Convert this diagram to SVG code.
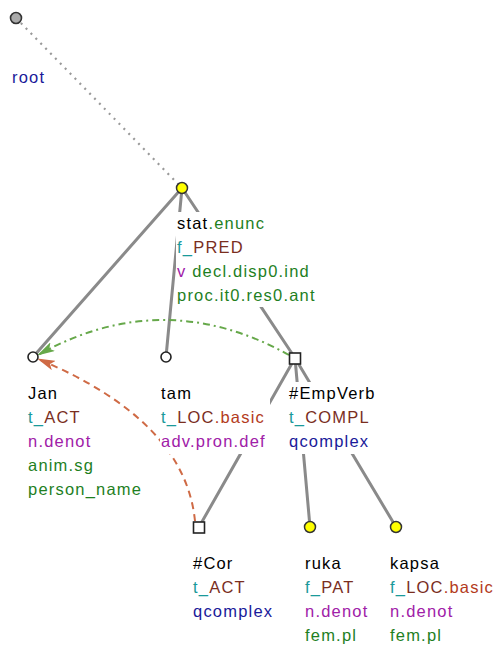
<svg xmlns="http://www.w3.org/2000/svg" width="498" height="646" viewBox="0 0 498 646">
<style>
text{font-family:"Liberation Sans",Arial,sans-serif;font-size:16.5px;letter-spacing:1.2px;fill:#000}
.edge{stroke:#8a8a8a;stroke-width:3;fill:none;stroke-linecap:round}
.bg{fill:#fff}
.tc{fill:#1a9a9a}.fn{fill:#7a2e1e}.sub{fill:#b33a20}.pu{fill:#a020a8}.gr{fill:#1f7f1f}.bl{fill:#1a1a9a}
.yel{fill:#ffff00;stroke:#333;stroke-width:1.5}
.open{fill:#fff;stroke:#222;stroke-width:1.6}
.sq{fill:#fff;stroke:#222;stroke-width:1.6}
</style>
<defs>
<marker id="ag" viewBox="0 0 18 10" refX="17" refY="5" markerWidth="18" markerHeight="10" markerUnits="userSpaceOnUse" orient="auto"><path d="M0,0 L18,5 L0,10 L4,5 z" fill="#66a84a"/></marker>
<marker id="ao" viewBox="0 0 18 10" refX="17" refY="5" markerWidth="18" markerHeight="10" markerUnits="userSpaceOnUse" orient="auto"><path d="M0,0 L18,5 L0,10 L4,5 z" fill="#cf6a45"/></marker>
</defs>
<g id="connectors">
<line x1="16" y1="18" x2="182" y2="188" stroke="#999" stroke-width="2.2" stroke-dasharray="2 5"/>
<line class="edge" x1="182" y1="188" x2="33" y2="357"/>
<line class="edge" x1="182" y1="188" x2="166" y2="357"/>
<line class="edge" x1="182" y1="188" x2="295" y2="358"/>
<line class="edge" x1="295" y1="358" x2="199" y2="527"/>
<line class="edge" x1="295" y1="358" x2="310" y2="527"/>
<line class="edge" x1="295" y1="358" x2="396" y2="527"/>
<path d="M289,355 Q163,285 38,355" fill="none" stroke="#66a84a" stroke-width="2" stroke-dasharray="7 4 2 4" marker-end="url(#ag)"/>
<path d="M195,521 Q185,420 38,359" fill="none" stroke="#cf6a45" stroke-width="2" stroke-dasharray="7 5" marker-end="url(#ao)"/>
</g>
<g id="root">
<circle cx="16" cy="18" r="5.5" fill="#aaa" stroke="#333" stroke-width="1.6"/>
<text x="12" y="83" class="bl">root</text>
</g>
<g id="stat">
<rect class="bg" x="176" y="212" width="142" height="95"/>
<circle class="yel" cx="182" cy="188" r="5.5"/>
<text x="177" y="229">stat<tspan class="gr">.enunc</tspan></text>
<text x="177" y="253"><tspan class="tc">f_</tspan><tspan class="fn">PRED</tspan></text>
<text x="177" y="277"><tspan class="pu">v</tspan><tspan class="gr"> decl.disp0.ind</tspan></text>
<text x="177" y="301" class="gr">proc.it0.res0.ant</text>
</g>
<g id="jan">
<circle class="open" cx="33" cy="357" r="5"/>
<text x="28" y="399">Jan</text>
<text x="28" y="423"><tspan class="tc">t_</tspan><tspan class="fn">ACT</tspan></text>
<text x="28" y="447" class="pu">n.denot</text>
<text x="28" y="471" class="gr">anim.sg</text>
<text x="28" y="495" class="gr">person_name</text>
</g>
<g id="tam">
<rect class="bg" x="160" y="382" width="110" height="72"/>
<circle class="open" cx="166" cy="357" r="5"/>
<text x="161" y="399">tam</text>
<text x="161" y="423"><tspan class="tc">t_</tspan><tspan class="fn">LOC</tspan><tspan class="sub">.basic</tspan></text>
<text x="161" y="447" class="pu">adv.pron.def</text>
</g>
<g id="empverb">
<rect class="bg" x="288" y="382" width="95" height="72"/>
<rect class="sq" x="289.5" y="353" width="11" height="11"/>
<text x="289" y="399">#EmpVerb</text>
<text x="289" y="423"><tspan class="tc">t_</tspan><tspan class="fn">COMPL</tspan></text>
<text x="289" y="447" class="bl">qcomplex</text>
</g>
<g id="cor">
<rect class="sq" x="193.5" y="522" width="11" height="11"/>
<text x="193" y="569">#Cor</text>
<text x="193" y="593"><tspan class="tc">t_</tspan><tspan class="fn">ACT</tspan></text>
<text x="193" y="617" class="bl">qcomplex</text>
</g>
<g id="ruka">
<circle class="yel" cx="310" cy="527" r="5.5"/>
<text x="305" y="569">ruka</text>
<text x="305" y="593"><tspan class="tc">f_</tspan><tspan class="fn">PAT</tspan></text>
<text x="305" y="617" class="pu">n.denot</text>
<text x="305" y="641" class="gr">fem.pl</text>
</g>
<g id="kapsa">
<circle class="yel" cx="396" cy="527" r="5.5"/>
<text x="390" y="569">kapsa</text>
<text x="390" y="593"><tspan class="tc">f_</tspan><tspan class="fn">LOC</tspan><tspan class="sub">.basic</tspan></text>
<text x="390" y="617" class="pu">n.denot</text>
<text x="390" y="641" class="gr">fem.pl</text>
</g>
</svg>
